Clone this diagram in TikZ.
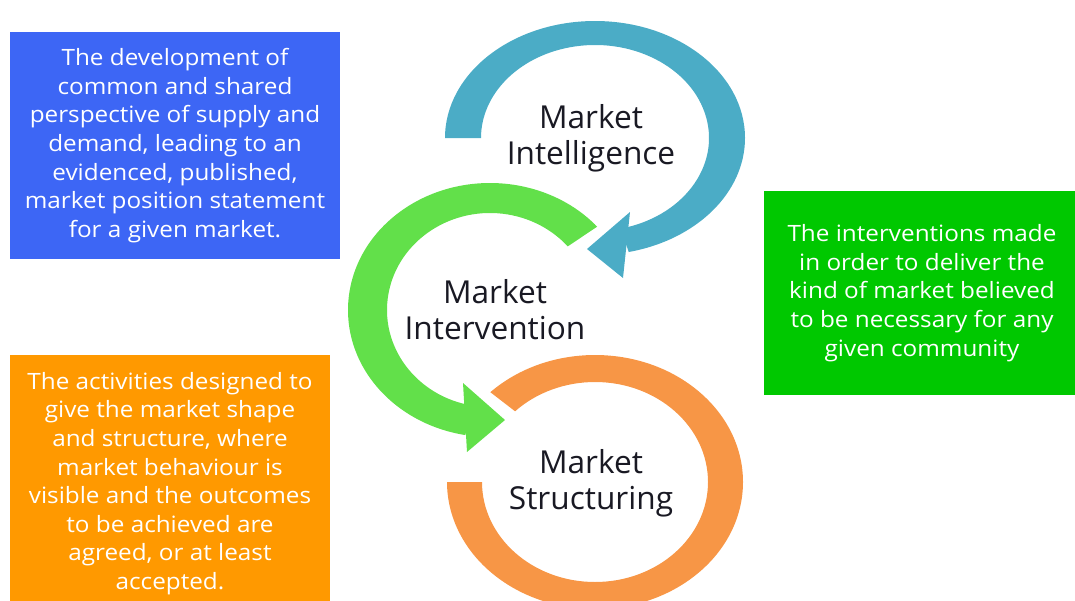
\documentclass[tikz,border=0pt]{standalone}
\usepackage{fontspec}
\setmainfont{Open Sans}
\newfontfamily\boxfont[FakeStretch=1.08]{Open Sans}
\definecolor{boxblue}{RGB}{61,102,245}
\definecolor{boxorange}{RGB}{255,153,0}
\definecolor{boxgreen}{RGB}{0,200,0}
\definecolor{intelblue}{RGB}{75,172,198}
\definecolor{intervgreen}{RGB}{98,224,74}
\definecolor{structorange}{RGB}{247,150,70}
\definecolor{labeltext}{RGB}{25,25,35}
\begin{document}
\begin{tikzpicture}[x=0.02cm, y=0.02cm,
    % Styles
    infobox/.style={text=white, font=\boxfont\fontsize{12.8}{16.3}\selectfont, align=center, inner sep=0pt, minimum width=6.6cm, minimum height=4.54cm},
    stagelabel/.style={text=labeltext, font=\fontsize{18}{20.5}\selectfont, align=center, inner sep=0pt},
]

\useasboundingbox (0,0) rectangle (1075,600);
\clip (0,0) rectangle (1075,600);

% Centres of the three cycle arcs
\coordinate (intelc) at (595,462);
\coordinate (intervc) at (490,290);
\coordinate (structc) at (595,118);

% Market Intelligence arc (blue)
\begin{scope}[shift={(intelc)}]
    \fill[intelblue] (180:150 and 117) arc[start angle=180, end angle=-77, x radius=150, y radius=117]
        -- (-77:114 and 93) arc[start angle=-77, end angle=180, x radius=114, y radius=93] -- cycle;
    \fill[intelblue] (35,-74) -- (-8,-111) -- (28,-140) -- cycle;
\end{scope}

% Market Intervention arc (green)
\begin{scope}[shift={(intervc)}]
    \fill[intervgreen] (41:142 and 127) arc[start angle=41, end angle=260, x radius=142, y radius=127]
        -- (260:103 and 97) arc[start angle=260, end angle=41, x radius=103, y radius=97] -- cycle;
    \fill[intervgreen] (-27,-73) -- (15,-110) -- (-23,-142) -- cycle;
\end{scope}

% Market Structuring arc (orange)
\begin{scope}[shift={(structc)}]
    \fill[structorange] (135:148 and 127) arc[start angle=135, end angle=-180, x radius=148, y radius=127]
        -- (180:113 and 100) arc[start angle=-180, end angle=135, x radius=113, y radius=100] -- cycle;
\end{scope}

% Stage labels
\node[stagelabel] (intel) at (591,462) {Market\\Intelligence};
\node[stagelabel] (interv) at (495,290) {Market\\Intervention};
\node[stagelabel] (struct) at (591,117) {Market\\Structuring};

% Description boxes
\node[infobox, fill=boxblue] (devbox) at (175,454.5) {The development of\\common and shared\\perspective of supply and\\demand, leading to an\\evidenced, published,\\market position statement\\for a given market.};

\node[infobox, fill=boxgreen, minimum width=6.32cm, minimum height=4.08cm] (interbox) at (922,307) {The interventions made\\in order to deliver the\\kind of market believed\\to be necessary for any\\given community};

\node[infobox, fill=boxorange, minimum width=6.4cm, minimum height=5.14cm] (actbox) at (170,116.5) {The activities designed to\\give the market shape\\and structure, where\\market behaviour is\\visible and the outcomes\\to be achieved are\\agreed, or at least\\accepted.};

\end{tikzpicture}
\end{document}
